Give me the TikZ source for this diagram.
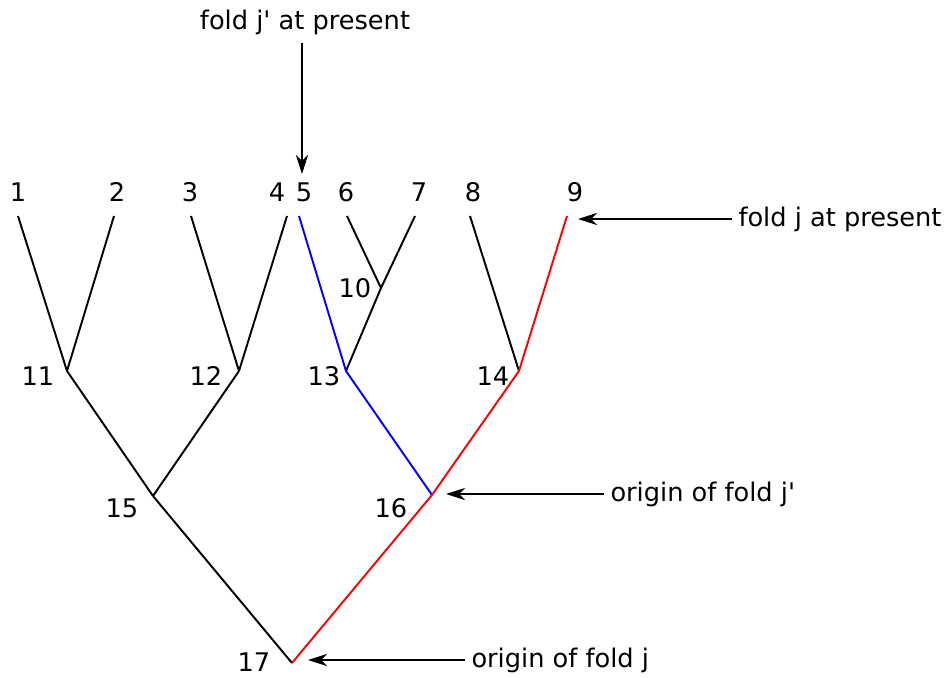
\documentclass[tikz,border=0pt]{standalone}
\usepackage{fontspec}
\setmainfont{DejaVu Sans}[Ligatures=TeXOff]
\usetikzlibrary{arrows.meta,positioning}

\begin{document}
\begin{tikzpicture}[x=0.02cm,y=-0.02cm,>={Stealth[length=11pt,width=7pt,inset=3.5pt]},
  every node/.style={font=\fontsize{14.6}{17}\selectfont,inner sep=1pt},
  branch/.style={line width=1.1pt},
  note/.style={->,line width=0.6pt}]
\useasboundingbox (0,0) rectangle (951,677);
% tips and inner nodes of the tree
\coordinate (n1) at (18,216);  \coordinate (n2) at (114,216);
\coordinate (n3) at (191,216); \coordinate (n4) at (287,216);
\coordinate (n5) at (299,216); \coordinate (n6) at (347,216);
\coordinate (n7) at (415,216); \coordinate (n8) at (470,216);
\coordinate (n9) at (567,216); \coordinate (n10) at (381,288);
\coordinate (n11) at (67,371); \coordinate (n12) at (239,371);
\coordinate (n13) at (346,371); \coordinate (n14) at (519,371);
\coordinate (n15) at (153,496); \coordinate (n16) at (432,495);
\coordinate (n17) at (292,663);
% labels
\foreach \n/\x/\y in {1/18/192,2/117/192,3/190/192,4/277/192,5/304/192,6/346/192,7/419/192,8/473/192,9/575/192,
  10/355/288,11/38/376,12/206/376,13/324/376,14/493/376,15/122/508,16/391/508,17/254/662}
  \node (l\n) at (\x,\y) {\n};
% branches
\foreach \a/\b in {n1/n11,n2/n11,n3/n12,n4/n12,n6/n10,n7/n10,n10/n13,n8/n14,n11/n15,n12/n15,n15/n17}
  \draw[branch] (\a) -- (\b);
\draw[branch,blue] (n5) -- (n13) -- (n16);
\draw[branch,red] (n9) -- (n14) -- (n16) -- (n17);
% annotations
\node (t1) at (305,22) {fold j' at present};
\node[anchor=west,inner xsep=3.5pt] (t2) at (732,219) {fold j at present};
\node[anchor=west,inner xsep=3.5pt] (t3) at (604,494) {origin of fold j'};
\node[anchor=west,inner xsep=3.5pt] (t4) at (465,660) {origin of fold j};
\coordinate (p1) at (302,174);
\coordinate (p2) at (578,218);
\coordinate (p3) at (446,493);
\coordinate (p4) at (308,661);
\draw[note] (p1 |- t1.south) ++(0,6) -- (p1);
\draw[note] (t2.west) -- (t2.west -| p2);
\draw[note] (t3.west) -- (t3.west -| p3);
\draw[note] (t4.west) -- (t4.west -| p4);
\end{tikzpicture}
\end{document}
